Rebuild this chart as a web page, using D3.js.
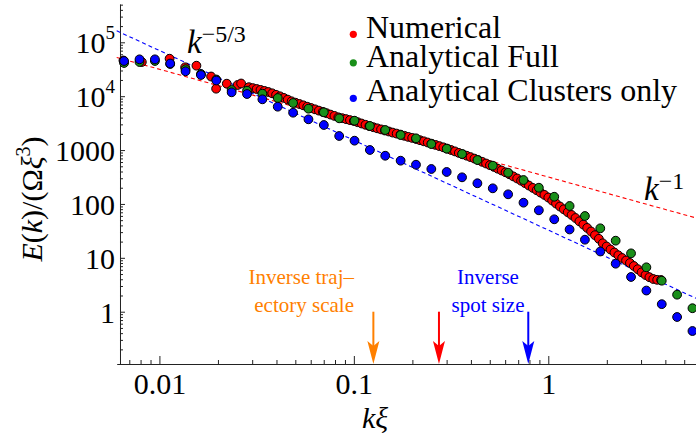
<!DOCTYPE html>
<html><head><meta charset="utf-8">
<script src="https://cdn.jsdelivr.net/npm/d3@7"></script>
<style>
html,body{margin:0;padding:0;background:#fff;}
svg{display:block;font-family:"Liberation Serif","Times New Roman",serif;}
</style></head><body>
<svg id="chart" width="696" height="439"></svg>
<script>
// ---------------- data ----------------
const seriesNames = ["Numerical", "Analytical Full", "Analytical Clusters only"];
const seriesColors = ["#ff0000", "#1a8f1a", "#0000ff"];

const numK = [0.00653, 0.00812, 0.01128, 0.01356, 0.0155, 0.01844, 0.01957, 0.02221, 0.02524, 0.02631,
  0.02884, 0.03020, 0.03162, 0.03311, 0.03467, 0.03631, 0.03802, 0.03981, 0.04169, 0.04365,
  0.04571, 0.04786, 0.05012, 0.05248, 0.05495, 0.05754, 0.06026, 0.06310, 0.06607, 0.06918,
  0.07244, 0.07586, 0.07943, 0.08318, 0.08710, 0.09120, 0.09550, 0.1000, 0.1047, 0.1096,
  0.1148, 0.1202, 0.1259, 0.1318, 0.1380, 0.1445, 0.1514, 0.1585, 0.1660, 0.1738,
  0.1820, 0.1905, 0.1995, 0.2089, 0.2188, 0.2291, 0.2399, 0.2512, 0.2630, 0.2754,
  0.2884, 0.3020, 0.3162, 0.3311, 0.3467, 0.3631, 0.3802, 0.3981, 0.4169, 0.4365,
  0.4571, 0.4786, 0.5012, 0.5248, 0.5495, 0.5754, 0.6026, 0.6310, 0.6607, 0.6918,
  0.7244, 0.7586, 0.7943, 0.8318, 0.8710, 0.9120, 0.9550, 1.000, 1.047, 1.096,
  1.148, 1.202, 1.259, 1.318, 1.380, 1.445, 1.514, 1.585, 1.660, 1.738,
  1.820, 1.905, 1.995, 2.089, 2.188, 2.291, 2.399, 2.512, 2.630, 2.754,
  2.884, 3.020, 3.162, 3.311, 3.467, 3.631, 3.802];
const numE = [45950, 43100, 49630, 34370, 36800, 23190, 13770, 17050, 16130, 17200,
  14680, 14130, 13590, 13080, 12530, 11960, 11310, 10610, 9950, 9290,
  8640, 8035, 7570, 7160, 6770, 6380, 6036, 5708, 5400, 5108,
  4833, 4551, 4305, 4056, 3904, 3757, 3599, 3463, 3290, 3112,
  2944, 2784, 2657, 2535, 2418, 2307, 2211, 2109, 2021, 1936,
  1839, 1755, 1681, 1605, 1524, 1454, 1382, 1313, 1247, 1184,
  1125, 1064, 1003, 944.6, 885.9, 834.3, 786.0, 740.3, 694.3, 651.2,
  605.4, 563.1, 523.6, 487.0, 451.0, 417.6, 386.6, 354.9, 324.5, 296.7,
  270.1, 243.7, 219.9, 198.5, 179.9, 162.4, 147.2, 131.7, 115.8, 101.9,
  89.65, 79.57, 70.26, 62.35, 54.83, 47.62, 41.36, 35.92, 30.80, 26.29,
  22.54, 18.60, 16.23, 14.27, 12.55, 11.14, 9.924, 8.919, 8.014, 7.050,
  6.150, 5.386, 4.799, 4.369, 4.045, 3.909, 3.876];

const analyticK = [0.00658, 0.00790, 0.00948, 0.01136, 0.01363, 0.01635, 0.01962, 0.02352, 0.02822, 0.03385,
  0.04060, 0.04870, 0.05842, 0.07008, 0.08406, 0.1008, 0.1209, 0.1450, 0.1740, 0.2087,
  0.2503, 0.3002, 0.3601, 0.4319, 0.5182, 0.6215, 0.7455, 0.8943, 1.073, 1.287,
  1.543, 1.851, 2.221, 2.664, 3.195, 3.833, 4.597, 5.514];
const fullE = [41300, 43100, 45000, 39550, 31700, 25800, 20400, 13030, 12640, 11120,
  9250, 7470, 5860, 5020, 3882, 3508, 2797, 2356, 1904, 1652,
  1295, 1060, 845, 654, 513, 380, 278, 200, 136, 91.6,
  59.7, 35.3, 20.8, 12.1, 6.67, 3.76, 2.07, 1.16];
const clustersE = [45000, 48300, 48300, 40400, 28970, 24720, 19540, 11800, 10970, 8750,
  6380, 4934, 3724, 2918, 1824, 1493, 1003, 785, 635, 535,
  445, 392, 312, 242, 195, 151, 105.5, 76.2, 51.9, 33.6,
  21.7, 13.1, 7.78, 4.41, 2.47, 1.38, 0.797, 0.438];

// power-law guide lines E = A k^(-p)
const guideA = [32.7, 316];
const guideP = [5/3, 1];
const guideColors = ["#0000ff", "#ff0000"];
const guideLabels = ["\u22125/3", "\u22121"];

// characteristic scales (arrows)
const arrowK = [0.126, 0.274, 0.789];
const arrowColors = ["#ff8000", "#ff0000", "#0000ff"];

// axes
const xMajorTicks = [0.01, 0.1, 1];
const xTickLabels = ["0.01", "0.1", "1"];
const yMajorTicks = [1, 10, 100, 1000, 1e4, 1e5];
const yTickLabels = ["1", "10", "100", "1000", "10^4", "10^5"];
const X_MIN = 0.00603, X_MAX = 5.75, Y_AXIS_AT = 0.00627;
const Y_MIN = 0.107, Y_MAX = 5.14e5;

// ---------------- drawing ----------------
const svg = d3.select("#chart");
const FONT = '"Liberation Serif","Times New Roman",serif';
const xScale = d3.scaleLog().domain([X_MIN, X_MAX]).range([116.7, 696]);
const yScale = d3.scaleLog().domain([Y_MIN, Y_MAX]).range([364, 4]);

function minorTicks(lo, hi) {
  const out = [];
  for (let e = -4; e <= 7; e++) for (let m = 2; m <= 9; m++) {
    const v = m * Math.pow(10, e);
    if (v >= lo && v <= hi) out.push(v);
  }
  return out;
}

// x axis
const xAxisY = yScale(Y_MIN);
const gx = svg.append("g").attr("transform", `translate(0,${xAxisY})`)
  .call(d3.axisBottom(xScale).tickValues(xMajorTicks).tickSizeInner(-8).tickSizeOuter(0).tickPadding(9)
    .tickFormat((d, i) => xTickLabels[i]));
gx.attr("font-size", 30).attr("font-family", FONT);
gx.select(".domain").attr("stroke", "#222");
gx.selectAll(".tick line").attr("stroke", "#222");
gx.selectAll(".tick text").attr("fill", "#000");
const gxm = svg.append("g").attr("transform", `translate(0,${xAxisY})`)
  .call(d3.axisBottom(xScale).tickValues(minorTicks(X_MIN, X_MAX)).tickSizeInner(-4).tickSizeOuter(0).tickFormat(""));
gxm.select(".domain").remove();
gxm.selectAll(".tick line").attr("stroke", "#222");

// y axis
const yAxisX = xScale(Y_AXIS_AT);
const gy = svg.append("g").attr("transform", `translate(${yAxisX},0)`)
  .call(d3.axisLeft(yScale).tickValues(yMajorTicks).tickSizeInner(-5).tickSizeOuter(0).tickPadding(5)
    .tickFormat(""));
gy.attr("font-size", 30).attr("font-family", FONT);
gy.select(".domain").attr("stroke", "#222");
gy.selectAll(".tick line").attr("stroke", "#222");
gy.selectAll(".tick text").attr("fill", "#000").attr("dy", "0.35em").each(function(d, i) {
  const lab = yTickLabels[i];
  const t = d3.select(this);
  if (lab.includes("^")) {
    const [b, e] = lab.split("^");
    t.append("tspan").text(b);
    t.append("tspan").attr("dy", -14).attr("font-size", 19).text(e);
  } else t.text(lab);
});
const gym = svg.append("g").attr("transform", `translate(${yAxisX},0)`)
  .call(d3.axisLeft(yScale).tickValues(minorTicks(Y_MIN, Y_MAX)).tickSizeInner(-3).tickSizeOuter(0).tickFormat(""));
gym.select(".domain").remove();
gym.selectAll(".tick line").attr("stroke", "#222");

// axis labels
svg.append("text").attr("x", 375).attr("y", 428).attr("text-anchor", "middle")
  .attr("font-size", 30).attr("font-style", "italic").attr("font-family", FONT).text("k\u03BE");
const yl = svg.append("text").attr("transform", "translate(41.5,199) rotate(-90)").attr("text-anchor", "middle")
  .attr("font-size", 30).attr("font-family", FONT);
yl.append("tspan").attr("font-style", "italic").text("E");
yl.append("tspan").text("(");
yl.append("tspan").attr("font-style", "italic").text("k");
yl.append("tspan").text(")/(\u03A9");
yl.append("tspan").attr("font-style", "italic").text("\u03BE");
yl.append("tspan").attr("dy", -12).attr("font-size", 20).text("3");
yl.append("tspan").attr("dy", 12).text(")");

// guide lines
const line = d3.line().x(d => xScale(d[0])).y(d => yScale(d[1]));
guideA.forEach((A, i) => {
  const pts = [X_MIN, X_MAX].map(k => [k, A * Math.pow(k, -guideP[i])]);
  svg.append("path").attr("d", line(pts)).attr("fill", "none").attr("stroke", guideColors[i])
    .attr("stroke-width", 1.1).attr("stroke-dasharray", "4,3");
});

// markers
const R = 4.4;
function drawSeries(ks, es, color) {
  svg.append("g").selectAll("circle").data(d3.zip(ks, es)).join("circle")
    .attr("cx", d => xScale(d[0])).attr("cy", d => yScale(d[1])).attr("r", R)
    .attr("fill", color).attr("stroke", "#000").attr("stroke-width", 1);
}
drawSeries(numK, numE, seriesColors[0]);
drawSeries(analyticK, fullE, seriesColors[1]);
drawSeries(analyticK, clustersE, seriesColors[2]);

// guide labels
const gl1 = svg.append("text").attr("x", 187).attr("y", 53).attr("font-size", 33).attr("font-family", FONT);
gl1.append("tspan").attr("font-style", "italic").text("k");
gl1.append("tspan").attr("dy", -11).attr("font-size", 24).text(guideLabels[0]);
const gl2 = svg.append("text").attr("x", 644).attr("y", 200).attr("font-size", 33).attr("font-family", FONT);
gl2.append("tspan").attr("font-style", "italic").text("k");
gl2.append("tspan").attr("dy", -11).attr("font-size", 24).text(guideLabels[1]);

// legend
const legY = [34.3, 62.8, 98.3];
const legBase = [38, 66.7, 100.5];
seriesNames.forEach((n, i) => {
  svg.append("circle").attr("cx", 353.3).attr("cy", legY[i]).attr("r", 3.6).attr("fill", seriesColors[i]);
  svg.append("text").attr("x", 366).attr("y", legBase[i]).attr("font-size", 32).attr("font-family", FONT).text(n);
});

// arrows
arrowK.forEach((k, i) => {
  const x = xScale(k), yTop = yScale(1), yTip = yScale(Y_MIN);
  svg.append("line").attr("x1", x).attr("x2", x).attr("y1", yTop).attr("y2", yTip - 10)
    .attr("stroke", arrowColors[i]).attr("stroke-width", 2);
  svg.append("path").attr("d", `M${x},${yTip} L${x - 6},${yTip - 23} L${x},${yTip - 18} L${x + 6},${yTip - 23} Z`)
    .attr("fill", arrowColors[i]);
});
svg.append("text").attr("x", 354).attr("y", 284.3).attr("text-anchor", "end").attr("font-size", 21)
  .attr("fill", arrowColors[0]).attr("font-family", FONT).text("Inverse traj\u2013");
svg.append("text").attr("x", 354).attr("y", 311.7).attr("text-anchor", "end").attr("font-size", 21)
  .attr("fill", arrowColors[0]).attr("font-family", FONT).text("ectory scale");
svg.append("text").attr("x", 488).attr("y", 284.3).attr("text-anchor", "middle").attr("font-size", 21)
  .attr("fill", arrowColors[2]).attr("font-family", FONT).text("Inverse");
svg.append("text").attr("x", 488).attr("y", 311.7).attr("text-anchor", "middle").attr("font-size", 21)
  .attr("fill", arrowColors[2]).attr("font-family", FONT).text("spot size");
</script>
</body></html>
